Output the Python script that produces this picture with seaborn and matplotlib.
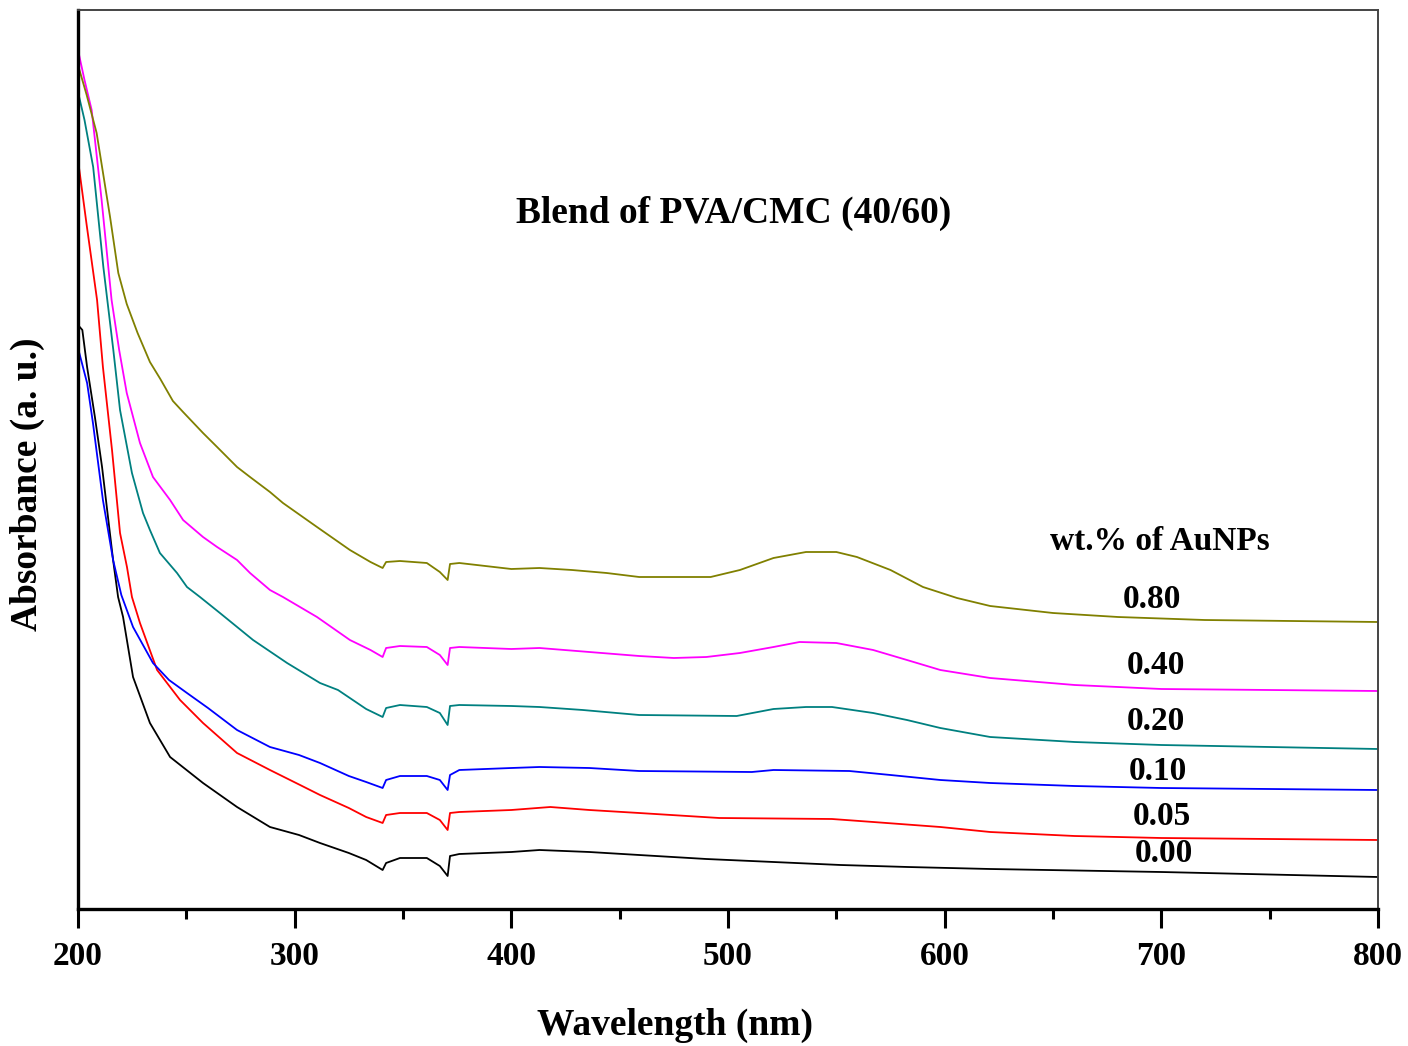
import numpy as np
import pandas as pd
import matplotlib
matplotlib.use("Agg")
import matplotlib.pyplot as plt
import seaborn as sns
from matplotlib.ticker import MultipleLocator

# ---------------- data ----------------
wl_000 = [200, 202, 204.2, 207.8, 211.1, 216.2, 218.5, 220.8, 225.4, 233.2, 242.5, 257.7, 273.4, 288.6, 302, 311.7, 325, 333,
          340.6, 342.2, 348.6, 361, 367, 370.6, 371.7, 376, 400, 413, 436, 459, 490, 521, 552, 583, 621, 700, 800]
ab_000 = [5.84, 5.79, 5.42, 4.92, 4.42, 3.49, 3.12, 2.92, 2.32, 1.86, 1.52, 1.26, 1.02, 0.82, 0.74, 0.66, 0.56, 0.49,
          0.39, 0.46, 0.51, 0.51, 0.43, 0.33, 0.53, 0.55, 0.57, 0.59, 0.57, 0.54, 0.50, 0.47, 0.44, 0.42, 0.40, 0.37, 0.32]

wl_005 = [200, 204, 208.8, 211.5, 215.7, 219.4, 222.6, 224.9, 228.6, 236.5, 247.1, 257.7, 273.4, 288.6, 302.5, 311.7, 325, 333,
          340.6, 342.2, 348.6, 361, 367, 370.6, 371.7, 376, 400, 418, 436, 459, 496, 548, 567, 598, 621, 660, 700, 800]
ab_005 = [7.49, 6.84, 6.09, 5.42, 4.59, 3.76, 3.42, 3.12, 2.86, 2.39, 2.09, 1.86, 1.56, 1.39, 1.24, 1.14, 1.01, 0.92,
          0.86, 0.94, 0.96, 0.96, 0.89, 0.79, 0.96, 0.97, 0.99, 1.02, 0.99, 0.96, 0.91, 0.90, 0.87, 0.82, 0.77, 0.73, 0.71, 0.69]

wl_010 = [200, 204.2, 206.9, 211.5, 216.2, 220, 225.4, 234.6, 242, 250.3, 260, 273.4, 288.6, 302, 311.7, 325, 333,
          340.6, 342.2, 348.6, 361, 367, 370.6, 371.7, 376, 400, 413, 436, 459, 511, 521, 556, 575, 598, 621, 660, 700, 800]
ab_010 = [5.61, 5.26, 4.86, 4.09, 3.49, 3.14, 2.82, 2.46, 2.29, 2.16, 2.01, 1.79, 1.62, 1.54, 1.46, 1.33, 1.27,
          1.21, 1.29, 1.33, 1.33, 1.29, 1.19, 1.34, 1.39, 1.41, 1.42, 1.41, 1.38, 1.37, 1.39, 1.38, 1.34, 1.29, 1.26, 1.23, 1.21, 1.19]

wl_020 = [200, 203, 207, 211.7, 216.3, 219.4, 224.9, 230, 233.2, 237.8, 245.7, 250.3, 256.3, 265.5, 280.8, 296.5, 311.7, 320, 333,
          340.6, 342.2, 348.6, 361, 367, 370.6, 371.7, 376, 400, 413, 433, 459, 504, 521, 536, 548, 567, 582.6, 598, 621, 660, 700, 800]
ab_020 = [8.17, 7.89, 7.42, 6.42, 5.59, 4.99, 4.36, 3.96, 3.79, 3.56, 3.36, 3.22, 3.12, 2.96, 2.69, 2.46, 2.26, 2.19, 2.00,
          1.92, 2.01, 2.04, 2.02, 1.96, 1.84, 2.03, 2.04, 2.03, 2.02, 1.99, 1.94, 1.93, 2.00, 2.02, 2.02, 1.96, 1.89, 1.81, 1.72, 1.67, 1.64, 1.60]

wl_040 = [200, 203, 206.3, 210.9, 215.5, 219, 222.5, 228.6, 234.6, 242.5, 248.5, 257.7, 264.2, 273.4, 279.4, 288.6, 294.6, 310.3, 325.5, 335,
          340.6, 342.2, 348.6, 361, 367, 370.6, 371.7, 376, 400, 413, 436, 459, 475, 490, 505.5, 521, 533, 550, 567, 582.6, 598, 621, 660, 700, 800]
ab_040 = [8.59, 8.29, 7.99, 7.09, 6.09, 5.59, 5.16, 4.66, 4.32, 4.09, 3.89, 3.72, 3.62, 3.49, 3.36, 3.19, 3.12, 2.92, 2.69, 2.59,
          2.52, 2.61, 2.63, 2.62, 2.54, 2.44, 2.61, 2.62, 2.60, 2.61, 2.57, 2.53, 2.51, 2.52, 2.56, 2.62, 2.67, 2.66, 2.59, 2.49, 2.39, 2.31, 2.24, 2.20, 2.18]

wl_080 = [200, 204, 208.6, 214.8, 218.6, 222.5, 227.5, 233.2, 238, 243.8, 248.5, 257.7, 264.2, 273.4, 279.4, 288.6, 294.6, 310.3, 325.5, 335,
          340.6, 342.2, 348.6, 361, 367, 370.6, 371.7, 376, 400, 413, 428, 444, 459, 492, 505.5, 521, 536, 550, 559.5, 575, 590, 605.7, 621, 650, 680, 720, 800]
ab_080 = [8.44, 8.14, 7.76, 6.92, 6.36, 6.05, 5.76, 5.47, 5.30, 5.08, 4.97, 4.76, 4.62, 4.42, 4.32, 4.17, 4.06, 3.82, 3.59, 3.47,
          3.41, 3.47, 3.48, 3.46, 3.37, 3.29, 3.45, 3.46, 3.40, 3.41, 3.39, 3.36, 3.32, 3.32, 3.39, 3.51, 3.57, 3.57, 3.52, 3.39, 3.22, 3.11, 3.03, 2.96, 2.92, 2.89, 2.87]

series_names = ["0.00", "0.05", "0.10", "0.20", "0.40", "0.80"]
series_wl = [wl_000, wl_005, wl_010, wl_020, wl_040, wl_080]
series_ab = [ab_000, ab_005, ab_010, ab_020, ab_040, ab_080]
series_colors = ["#000000", "#ff0000", "#0000ff", "#008080", "#ff00ff", "#808000"]

x_ticks = [200, 300, 400, 500, 600, 700, 800]
title_text = "Blend of PVA/CMC (40/60)"
legend_title = "wt.% of AuNPs"

# ---------------- build long-form table ----------------
frames = []
for name, wl, ab in zip(series_names, series_wl, series_ab):
    frames.append(pd.DataFrame({"Wavelength": wl, "Absorbance": ab, "wt": name}))
df = pd.concat(frames, ignore_index=True)

sns.set_theme(style="white")
plt.rcParams["font.family"] = ["Liberation Serif", "DejaVu Serif"]
plt.rcParams["font.weight"] = "bold"
plt.rcParams["text.color"] = "black"
plt.rcParams["axes.labelcolor"] = "black"
plt.rcParams["xtick.color"] = "black"

fig = plt.figure(figsize=(14.08, 10.46), dpi=100)
ax = fig.add_axes([78 / 1408, 1 - 909 / 1046, 1300 / 1408, 899 / 1046])

sns.lineplot(data=df, x="Wavelength", y="Absorbance", hue="wt",
             hue_order=series_names, palette=series_colors,
             estimator=None, sort=False, linewidth=1.3, legend=False, ax=ax)

ax.set_xlim(200, 800)
ax.set_ylim(0, 8.99)
ax.set_xticks(x_ticks)
ax.set_xticklabels([str(t) for t in x_ticks])
ax.xaxis.set_minor_locator(MultipleLocator(50))
ax.set_yticks([])

ax.tick_params(axis="x", which="major", direction="out", length=14, width=2.2,
               color="black", labelsize=24, pad=9, bottom=True)
ax.tick_params(axis="x", which="minor", direction="out", length=7, width=2.2,
               color="black", bottom=True)
for lab in ax.get_xticklabels():
    lab.set_fontweight("bold")

for side in ["left", "bottom"]:
    ax.spines[side].set_linewidth(2.4)
    ax.spines[side].set_color("black")
for side in ["top", "right"]:
    ax.spines[side].set_linewidth(1.4)
    ax.spines[side].set_color("#444444")

ax.set_xlabel("Wavelength (nm)", fontsize=27, fontweight="bold")
ax.set_ylabel("Absorbance (a. u.)", fontsize=27, fontweight="bold")
ax.xaxis.set_label_coords(0.459, -0.110)
ax.yaxis.set_label_coords(-0.0250, 0.472)

ax.text(0.504, 0.774, title_text, transform=ax.transAxes, ha="center", va="center",
        fontsize=27, fontweight="bold")
ax.text(0.832, 0.409, legend_title, transform=ax.transAxes, ha="center", va="center",
        fontsize=24, fontweight="bold")

label_pos = {"0.80": (0.826, 0.344), "0.40": (0.829, 0.271), "0.20": (0.829, 0.209),
             "0.10": (0.831, 0.1535), "0.05": (0.834, 0.1034), "0.00": (0.835, 0.0612)}
for name in series_names:
    x, y = label_pos[name]
    ax.text(x, y, name, transform=ax.transAxes, ha="center", va="center",
            fontsize=24, fontweight="bold")

fig.savefig("out.png", dpi=100)
